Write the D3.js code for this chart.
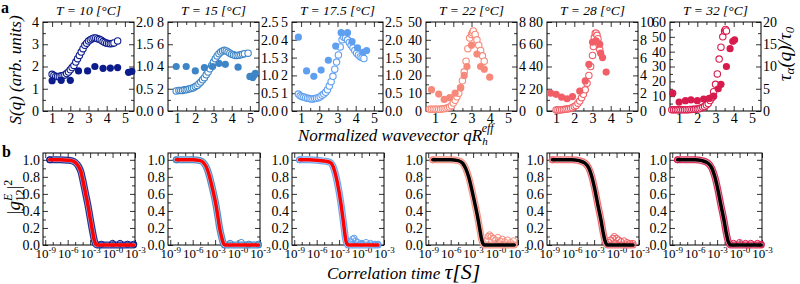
<!DOCTYPE html>
<html>
<head>
<meta charset="utf-8">
<script src="https://cdn.jsdelivr.net/npm/d3@7"></script>
</head>
<body style="margin:0">
<svg id="fig" width="800" height="284"></svg>
<script>
// temperatures of the six panels
const temps = ['10', '15', '17.5', '22', '28', '32'];
const colors = ['#0d1c8c', '#3d85c6', '#5f9ff0', '#f7897a', '#f25e66', '#d81b4d'];
const fitColors = ['#ff0000', '#ff0000', '#ff0000', '#000000', '#000000', '#000000'];

// left axis S(q) and right axis tau_alpha/tau_0 ranges
const sqMax = [4, 8, 5, 50, 80, 60];
const sqStep = [1, 2, 1, 10, 20, 10];
const tauMax = [2, 2.5, 2.5, 8, 10, 20];
const tauStep = [0.5, 0.5, 0.5, 2, 2, 5];

// S(q) open circles [q, S]
const sq10 = [[1.0,1.65],[1.1,1.6],[1.2,1.55],[1.3,1.55],[1.4,1.55],[1.5,1.58],[1.6,1.6],[1.7,1.62],[1.8,1.68],[1.9,1.75],[2.0,1.85],[2.1,1.95],[2.2,2.05],[2.3,2.2],[2.4,2.35],[2.5,2.5],[2.6,2.65],[2.7,2.8],[2.8,2.95],[2.9,3.05],[3.0,3.15],[3.1,3.2],[3.2,3.25],[3.3,3.28],[3.4,3.28],[3.5,3.25],[3.6,3.22],[3.7,3.18],[3.8,3.12],[3.9,3.08],[4.0,3.05],[4.1,3.03],[4.2,3.02],[4.3,3.03],[4.4,3.06],[4.6,3.15]];
const sq15 = [[0.95,1.8],[1.1,1.85],[1.2,1.85],[1.3,1.85],[1.4,1.9],[1.5,1.9],[1.6,1.95],[1.7,2.0],[1.8,2.05],[1.9,2.1],[2.0,2.2],[2.1,2.3],[2.2,2.45],[2.3,2.6],[2.4,2.8],[2.5,3.0],[2.6,3.25],[2.7,3.5],[2.8,3.8],[2.9,4.1],[3.0,4.4],[3.1,4.7],[3.2,4.95],[3.3,5.15],[3.4,5.3],[3.5,5.4],[3.6,5.45],[3.7,5.4],[3.8,5.3],[3.9,5.2],[4.0,5.1],[4.1,5.05],[4.2,5.0],[4.3,5.0],[4.4,5.02],[4.5,5.05],[4.6,5.1],[4.7,5.15],[4.9,5.2]];
const sq175 = [[0.85,0.95],[0.95,0.85],[1.05,0.8],[1.15,0.78],[1.25,0.75],[1.35,0.72],[1.45,0.7],[1.55,0.68],[1.65,0.68],[1.75,0.7],[1.85,0.72],[1.95,0.75],[2.05,0.8],[2.15,0.88],[2.25,0.95],[2.35,1.05],[2.45,1.2],[2.55,1.4],[2.65,1.65],[2.75,1.95],[2.85,2.35],[2.95,2.75],[3.05,3.15],[3.15,3.6],[3.25,4.0],[3.35,4.15],[3.45,4.1],[3.55,4.0],[3.65,3.85],[3.75,3.7],[3.85,3.55],[3.95,3.4],[4.05,3.25],[4.15,3.15],[4.25,3.05],[4.35,3.0],[4.45,2.95]];
const sq22 = [[0.7,1],[0.8,1],[0.9,1],[1.0,1],[1.1,1],[1.2,1],[1.3,1],[1.4,1.2],[1.5,1.3],[1.6,1.5],[1.7,1.8],[1.8,2.2],[1.9,3],[2.0,4.5],[2.1,6],[2.2,8],[2.3,10],[2.4,13],[2.5,17],[2.6,22],[2.7,28],[2.8,35],[2.9,41],[3.0,43],[3.05,44],[3.1,45],[3.2,43],[3.3,40],[3.4,37],[3.5,34],[3.6,31],[3.7,28]];
const sq28 = [[1.0,1],[1.1,1],[1.2,1],[1.3,1.2],[1.4,1.3],[1.5,1.5],[1.6,1.7],[1.7,2],[1.8,2.4],[1.9,3],[2.0,4],[2.1,5],[2.2,7],[2.3,9],[2.4,12],[2.5,15],[2.6,19],[2.7,25],[2.8,32],[2.9,40],[3.0,50],[3.05,58],[3.1,66],[3.15,70],[3.2,70],[3.25,68],[3.3,65],[3.35,60],[3.4,55]];
const sq32 = [[0.6,0.8],[0.7,0.8],[0.8,0.8],[0.9,0.8],[1.0,0.8],[1.1,0.8],[1.2,0.8],[1.3,0.8],[1.4,0.9],[1.5,0.9],[1.6,1],[1.7,1],[1.8,1.1],[1.9,1.2],[2.0,1.3],[2.1,1.5],[2.2,2],[2.3,2.5],[2.4,3],[2.5,4],[2.6,5],[2.7,7],[2.8,9],[2.9,13],[3.0,18],[3.1,25],[3.2,35],[3.3,43],[3.4,50],[3.5,54],[3.55,55],[3.6,54]];

// tau_alpha/tau_0 filled circles [q, tau]
const tau10 = [[1.0,0.68],[1.5,0.69],[2.0,0.69],[2.45,0.9],[2.95,0.9],[3.35,1.0],[3.8,0.96],[4.2,0.965],[4.6,0.975],[5.2,0.87],[5.38,0.89]];
const tau15 = [[0.95,1.25],[1.5,1.25],[2.0,1.125],[2.5,1.22],[2.95,1.25],[3.3,1.34],[3.65,1.31],[4.35,1.23],[5.0,0.97],[5.15,0.94],[5.22,1.0],[5.3,1.06]];
const tau175 = [[0.85,2.075],[1.3,1.125],[1.7,0.975],[2.1,1.15],[2.5,1.425],[2.9,1.825],[3.2,2.2],[3.55,2.2],[3.8,1.95],[4.1,1.775],[4.4,1.65],[4.6,1.7]];
const tau22 = [[0.8,1.92],[1.2,1.52],[1.5,1.04],[1.8,1.2],[2.1,1.6],[2.4,2.08],[2.6,3.2],[2.75,4.0],[3.0,5.92],[3.3,5.12],[3.5,4.0],[3.7,3.76],[4.0,3.04]];
const tau28 = [[0.7,2.0],[1.0,1.875],[1.3,1.56],[1.6,1.375],[1.9,1.625],[2.3,2.25],[2.6,3.375],[2.8,5.25],[3.0,7.75],[3.2,7.875],[3.4,7.5],[3.45,6.5],[3.55,6.0],[3.75,4.375]];
const tau32 = [[0.65,4],[1.0,2],[1.35,2.33],[1.65,2.5],[2.0,2.33],[2.35,2.67],[2.65,2.83],[2.9,3.33],[3.15,5],[3.3,6],[3.6,10],[3.8,14],[3.95,15.67],[4.05,16]];

const sqData = [sq10, sq15, sq175, sq22, sq28, sq32];
const tauData = [tau10, tau15, tau175, tau22, tau28, tau32];

// |g12|^2 vs log10(tau) : measured band and fit
const g10 = [[-8.4,1],[-7,1],[-6,0.995],[-5.5,0.99],[-5,0.97],[-4.6,0.93],[-4.2,0.85],[-3.9,0.73],[-3.6,0.6],[-3.3,0.47],[-3.0,0.32],[-2.7,0.17],[-2.45,0.06],[-2.25,0.01],[-2.1,0],[-1,0],[0,0],[1,0],[2,0],[2.8,0]];
const g15 = [[-8.2,1],[-7,1],[-6,1],[-5,0.99],[-4.6,0.97],[-4.2,0.92],[-3.8,0.82],[-3.4,0.68],[-3.0,0.52],[-2.7,0.37],[-2.4,0.2],[-2.1,0.08],[-1.9,0.02],[-1.7,0],[0,0],[2.8,0]];
const g175 = [[-8.3,1],[-7,1],[-6,0.995],[-5,0.985],[-4.2,0.97],[-3.8,0.92],[-3.4,0.8],[-3.0,0.62],[-2.7,0.45],[-2.4,0.25],[-2.15,0.08],[-1.95,0.01],[-1.8,0],[0,0],[2.2,0]];
const g22 = [[-8.4,1],[-6,1],[-5,0.99],[-4.4,0.96],[-4,0.9],[-3.6,0.8],[-3.2,0.66],[-2.8,0.5],[-2.4,0.33],[-2.1,0.18],[-1.85,0.06],[-1.65,0.01],[-1.5,0],[0,0],[2.5,0]];
const g28 = [[-8.6,1],[-6,1],[-5,0.99],[-4.2,0.96],[-3.7,0.9],[-3.3,0.8],[-2.9,0.65],[-2.5,0.47],[-2.1,0.3],[-1.8,0.15],[-1.55,0.05],[-1.35,0.01],[-1.2,0],[0,0],[2.2,0]];
const g32 = [[-8.3,1],[-6,1],[-5,0.99],[-4.2,0.96],[-3.7,0.9],[-3.3,0.8],[-2.9,0.65],[-2.5,0.47],[-2.1,0.3],[-1.8,0.15],[-1.55,0.05],[-1.35,0.01],[-1.2,0],[0,0],[2.9,0]];
const gData = [g10, g15, g175, g22, g28, g32];

// scattered open circles in the long-time tail
const tail10 = [[-8.4,1],[-1.5,0.01],[0,0.02],[1,0.02],[2.0,0.01],[2.85,0.01]];
const tail15 = [[-8.2,1],[-1,0.02],[0.5,0.03],[1.5,0.01],[2.8,0.01]];
const tail175 = [[-8.3,1],[-1.4,0.04],[-1.2,0.07],[-1.0,0.08],[-0.8,0.05],[-0.5,0.03],[0,0.02],[0.6,0.03],[1.2,0.02],[1.8,0.01],[2.2,0.01]];
const tail22 = [[-8.4,1],[-1.3,0.05],[-1.0,0.1],[-0.8,0.12],[-0.6,0.1],[-0.3,0.08],[0,0.06],[0.3,0.09],[0.6,0.05],[0.9,0.07],[1.2,0.04],[1.6,0.06],[2.0,0.03],[2.4,0.05]];
const tail28 = [[-8.6,1],[-1.0,0.03],[-0.8,0.06],[-0.5,0.08],[-0.3,0.1],[0,0.08],[0.3,0.06],[0.6,0.04],[1.0,0.05],[1.4,0.03],[1.8,0.02],[2.2,0.02]];
const tail32 = [[-8.3,1],[-0.8,0.02],[0,0.03],[0.8,0.02],[1.5,0.02],[2.4,0.02],[2.9,0.01]];
const tailData = [tail10, tail15, tail175, tail22, tail28, tail32];

// tick labels
const qTicks = [1, 2, 3, 4, 5];
const gTicks = [0, 0.2, 0.4, 0.6, 0.8, 1.0];
const logTicks = [-9, -6, -3, 0, 3];
const logTickLabels = ['-9', '-6', '-3', '-0', '-3'];

// layout
const panelX = [43, 168, 292, 426, 547, 670];
const panelW = 91;
const topY0 = 22, topY1 = 111;
const botY0 = 153, botY1 = 245;
const FONT = 'Liberation Serif';
const tickFont = 14;

const svg = d3.select('#fig');

drawLabels();
for (let i = 0; i < 6; i++) {
  drawTopPanel(i);
  drawBottomPanel(i);
}
svg.selectAll('g').attr('font-family', null).attr('font-size', null);
svg.selectAll('text')
  .attr('font-family', FONT)
  .style('font-family', FONT)
  .attr('fill', '#000');

function inwardTicks(g, axisFn, scale, values, size, fmt) {
  g.call(axisFn(scale).tickValues(values).tickSize(size).tickPadding(4).tickFormat(fmt));
  g.select('.domain').remove();
  g.selectAll('line').attr('stroke', '#000').attr('stroke-width', 0.8);
}

function halfSteps(max, step) {
  const out = [];
  for (let v = step / 2; v < max; v += step) out.push(v);
  return out;
}

function drawTopPanel(i) {
  const x0 = panelX[i], x1 = x0 + panelW;
  const x = d3.scaleLinear().domain([0.5, 5.5]).range([x0, x1]);
  const yL = d3.scaleLinear().domain([0, sqMax[i]]).range([topY1, topY0]);
  const yR = d3.scaleLinear().domain([0, tauMax[i]]).range([topY1, topY0]);
  const g = svg.append('g');

  const lTicks = d3.range(0, sqMax[i] + 1e-9, sqStep[i]);
  const rTicks = d3.range(0, tauMax[i] + 1e-9, tauStep[i]);
  const rFmt = tauStep[i] < 1 ? d3.format('.1f') : d3.format('d');

  // ticks
  let a = g.append('g').attr('transform', `translate(0,${topY1})`);
  inwardTicks(a, d3.axisBottom, x, qTicks, -5, d3.format('d'));
  a.selectAll('text').attr('dy', '0.71em').attr('y', 2).attr('font-size', tickFont);
  a = g.append('g').attr('transform', `translate(0,${topY1})`);
  inwardTicks(a, d3.axisBottom, x, [1.5, 2.5, 3.5, 4.5], -3, '');
  a = g.append('g').attr('transform', `translate(0,${topY0})`);
  inwardTicks(a, d3.axisTop, x, qTicks, -5, '');
  a = g.append('g').attr('transform', `translate(0,${topY0})`);
  inwardTicks(a, d3.axisTop, x, [1.5, 2.5, 3.5, 4.5], -3, '');

  a = g.append('g').attr('transform', `translate(${x0},0)`);
  inwardTicks(a, d3.axisLeft, yL, lTicks, -5, d3.format('d'));
  a.selectAll('text').attr('font-size', tickFont).attr('x', -4);
  a = g.append('g').attr('transform', `translate(${x0},0)`);
  inwardTicks(a, d3.axisLeft, yL, halfSteps(sqMax[i], sqStep[i]), -3, '');

  a = g.append('g').attr('transform', `translate(${x1},0)`);
  inwardTicks(a, d3.axisRight, yR, rTicks, -5, rFmt);
  a.selectAll('text').attr('font-size', tickFont).attr('x', 2);
  a = g.append('g').attr('transform', `translate(${x1},0)`);
  inwardTicks(a, d3.axisRight, yR, halfSteps(tauMax[i], tauStep[i]), -3, '');

  g.append('rect')
    .attr('x', x0).attr('y', topY0)
    .attr('width', panelW).attr('height', topY1 - topY0)
    .attr('fill', 'none').attr('stroke', '#000').attr('stroke-width', 1);

  const clipId = 'clipT' + i;
  g.append('clipPath').attr('id', clipId)
    .append('rect').attr('x', x0 - 4).attr('y', topY0 - 4)
    .attr('width', panelW + 8).attr('height', topY1 - topY0 + 8);
  const plot = g.append('g').attr('clip-path', `url(#${clipId})`);

  plot.selectAll('circle.sq').data(sqData[i]).enter()
    .append('circle')
    .attr('cx', d => x(d[0])).attr('cy', d => yL(d[1]))
    .attr('r', 3.2)
    .attr('fill', '#fff').attr('stroke', colors[i]).attr('stroke-width', 1.1);

  plot.selectAll('circle.tau').data(tauData[i]).enter()
    .append('circle')
    .attr('cx', d => x(d[0])).attr('cy', d => yR(d[1]))
    .attr('r', 3.6)
    .attr('fill', colors[i]);

  svg.append('text')
    .attr('x', (x0 + x1) / 2).attr('y', 15)
    .attr('text-anchor', 'middle')
    .attr('font-size', 13.5).attr('font-style', 'italic')
    .text(`T = ${temps[i]} [°C]`);
}

function drawBottomPanel(i) {
  const x0 = panelX[i], x1 = x0 + panelW + 1;
  const x = d3.scaleLinear().domain([-9.3, 3]).range([x0, x1]);
  const y = d3.scaleLinear().domain([0, 1.08]).range([botY1, botY0]);
  const g = svg.append('g');

  const minorX = d3.range(-9, 3.01, 1).filter(v => v % 3 !== 0);
  const minorY = d3.range(0.1, 1.0, 0.2);

  let a = g.append('g').attr('transform', `translate(0,${botY1})`);
  inwardTicks(a, d3.axisBottom, x, logTicks, -5, '');
  a.selectAll('.tick').append('text')
    .attr('y', 13).attr('text-anchor', 'middle').attr('font-size', 13)
    .each(function(d, k) {
      const t = d3.select(this);
      t.append('tspan').text('10');
      t.append('tspan').attr('dy', -5).attr('font-size', 9).text(logTickLabels[k]);
    });
  a = g.append('g').attr('transform', `translate(0,${botY1})`);
  inwardTicks(a, d3.axisBottom, x, minorX, -3, '');
  a = g.append('g').attr('transform', `translate(0,${botY0})`);
  inwardTicks(a, d3.axisTop, x, logTicks, -5, '');
  a = g.append('g').attr('transform', `translate(0,${botY0})`);
  inwardTicks(a, d3.axisTop, x, minorX, -3, '');

  a = g.append('g').attr('transform', `translate(${x0},0)`);
  inwardTicks(a, d3.axisLeft, y, gTicks, -5, d3.format('.1f'));
  a.selectAll('text').attr('font-size', tickFont).attr('x', -3);
  a = g.append('g').attr('transform', `translate(${x0},0)`);
  inwardTicks(a, d3.axisLeft, y, minorY, -3, '');
  a = g.append('g').attr('transform', `translate(${x1},0)`);
  inwardTicks(a, d3.axisRight, y, gTicks, -5, '');
  a = g.append('g').attr('transform', `translate(${x1},0)`);
  inwardTicks(a, d3.axisRight, y, minorY, -3, '');

  g.append('rect')
    .attr('x', x0).attr('y', botY0)
    .attr('width', x1 - x0).attr('height', botY1 - botY0)
    .attr('fill', 'none').attr('stroke', '#000').attr('stroke-width', 1);

  const line = d3.line()
    .x(d => x(d[0])).y(d => y(d[1]))
    .curve(d3.curveMonotoneX);

  // dense measured points drawn as a band
  g.append('path')
    .attr('d', line(gData[i]))
    .attr('fill', 'none').attr('stroke', colors[i])
    .attr('stroke-width', 7).attr('stroke-linecap', 'round')
    .attr('stroke-linejoin', 'round').attr('opacity', 0.9);
  g.append('path')
    .attr('d', line(gData[i]))
    .attr('fill', 'none').attr('stroke', '#fff')
    .attr('stroke-width', 4.6).attr('stroke-linecap', 'round').attr('opacity', 0.6);

  g.selectAll('circle.tail').data(tailData[i]).enter()
    .append('circle')
    .attr('cx', d => x(d[0])).attr('cy', d => y(d[1]))
    .attr('r', 3)
    .attr('fill', 'none').attr('stroke', colors[i]).attr('stroke-width', 1);

  // fit
  g.append('path')
    .attr('d', line(gData[i]))
    .attr('fill', 'none').attr('stroke', fitColors[i])
    .attr('stroke-width', 3.5).attr('stroke-linecap', 'round');
}

function drawLabels() {
  svg.append('text').attr('x', 1).attr('y', 13)
    .attr('font-size', 16).attr('font-weight', 'bold').text('a');
  svg.append('text').attr('x', 2).attr('y', 157)
    .attr('font-size', 16).attr('font-weight', 'bold').text('b');

  svg.append('text')
    .attr('transform', 'translate(21,70) rotate(-90)')
    .attr('text-anchor', 'middle').attr('font-size', 17).attr('font-style', 'italic')
    .text('S(q) (arb. units)');

  const r = svg.append('text')
    .attr('transform', 'translate(791,54) rotate(-90)')
    .attr('text-anchor', 'middle').attr('font-size', 19).attr('font-style', 'italic');
  r.append('tspan').text('τ');
  r.append('tspan').attr('dy', 3).attr('font-size', 13).text('α');
  r.append('tspan').attr('dy', -3).text('(q)/τ');
  r.append('tspan').attr('dy', 3).attr('font-size', 13).text('0');

  const xl = svg.append('text')
    .attr('x', 298).attr('y', 141)
    .attr('font-size', 17).attr('font-style', 'italic');
  xl.append('tspan').text('Normalized wavevector  qR');
  xl.append('tspan').attr('dy', 4).attr('font-size', 11).text('h');
  xl.append('tspan').attr('dx', -6).attr('dy', -13).attr('font-size', 12).text('eff');

  const yl = svg.append('text')
    .attr('transform', 'translate(20,197) rotate(-90)')
    .attr('text-anchor', 'middle').attr('font-size', 19);
  yl.append('tspan').text('|');
  yl.append('tspan').attr('font-style', 'italic').text('g');
  yl.append('tspan').attr('dy', -8).attr('font-size', 12).attr('font-style', 'italic').text('E');
  yl.append('tspan').attr('dx', -8).attr('dy', 12).attr('font-size', 12).text('12');
  yl.append('tspan').attr('dy', -4).text('|');
  yl.append('tspan').attr('dy', -8).attr('font-size', 12).text('2');

  const bl = svg.append('text')
    .attr('x', 327).attr('y', 279)
    .attr('font-size', 17).attr('font-style', 'italic');
  bl.append('tspan').text('Correlation time  ');
  bl.append('tspan').attr('font-size', 22).text('τ[S]');
}
</script>
</body>
</html>
